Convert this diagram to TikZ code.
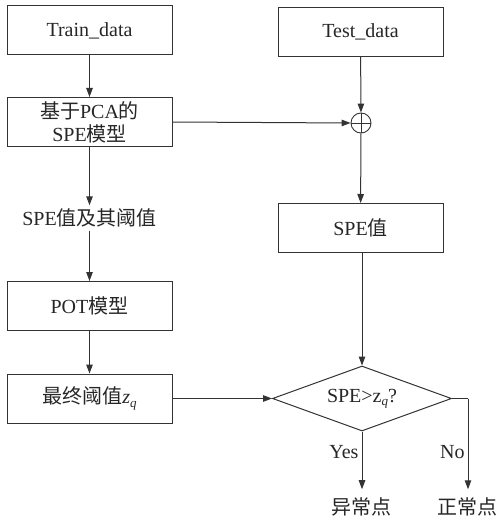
\documentclass[tikz,border=0pt]{standalone}
\usepackage{fontspec}
\setmainfont{Liberation Serif}
\newfontfamily\cjk{Noto Sans CJK SC}
\usetikzlibrary{shapes.geometric,arrows.meta}
\tikzset{
  x=1pt, y=-1pt,
  every node/.style={font=\fontsize{20}{22}\selectfont, text=black!85},
  procbox/.style={draw=black!80, line width=1pt, minimum width=165pt, minimum height=49pt, inner sep=0pt, align=center},
  flow/.style={draw=black!80, line width=1pt, -{Triangle[length=9pt,width=6.5pt]}},
  link/.style={draw=black!80, line width=1pt},
}
\newcommand{\zq}{\textit{z}\raisebox{-0.35ex}{\fontsize{13}{14}\selectfont\textit{q}}}
\begin{document}
\begin{tikzpicture}
\useasboundingbox (0,0) rectangle (498,516);
% left column
\node[procbox] (train) at (89.5,30.5) {Train\_data};
\node[procbox, font=\fontsize{20}{23}\selectfont] (pca) at (89.5,122) {{\cjk 基于}PCA{\cjk 的}\\SPE{\cjk 模型}};
\node (speth) at (89.5,218) {SPE{\cjk 值及其阈值}};
\node[procbox] (pot) at (89.5,306) {POT{\cjk 模型}};
\node[procbox] (final) at (89.5,398.5) {{\cjk 最终阈值}\zq};
% right column
\node[procbox] (test) at (360.5,32) {Test\_data};
\node[draw=black!80, line width=0.9pt, circle, minimum size=20pt, inner sep=0pt] (plus) at (361,123) {};
\draw[black!80, line width=0.9pt] (plus.north) -- (plus.south) (plus.west) -- (plus.east);
\node[procbox] (spev) at (360.5,228) {SPE{\cjk 值}};
\node[draw=black!80, line width=1pt, diamond, aspect=2.75, minimum width=179pt, minimum height=65pt, inner sep=0pt] (dec) at (362,398.5) {SPE\textgreater z\raisebox{-0.35ex}{\fontsize{13}{14}\selectfont\textit{q}}?};
\node (abn) at (361,507) {\cjk 异常点};
\node (nor) at (467,507) {\cjk 正常点};
\coordinate (corner) at (468,398.5);
% connectors
\draw[flow] (train) -- (pca);
\draw[flow] (pca) -- (speth);
\draw[flow] (speth) -- (pot);
\draw[flow] (pot) -- (final);
\draw[flow] (pca.east) -- (plus.west);
\draw[flow] (test) -- (plus);
\draw[flow] (plus) -- (spev);
\draw[flow] (spev.south -| dec.north) -- (dec.north);
\draw[flow] (final.east) -- (dec.west);
\draw[flow, shorten >=5pt] (dec.south) -- node[left, pos=0.32, inner sep=3pt] {Yes} (abn.north -| dec.south);
\draw[link] (dec.east) -- (corner);
\draw[flow, shorten >=5pt] (corner) -- node[left, pos=0.56, inner sep=3pt] {No} (nor.north -| corner);
\end{tikzpicture}
\end{document}
